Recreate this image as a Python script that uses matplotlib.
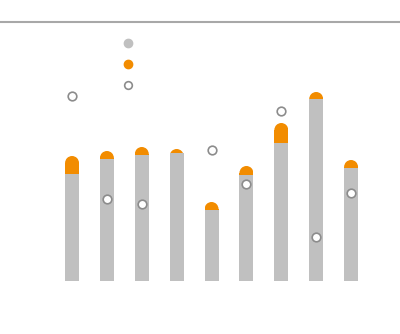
import numpy as np
import matplotlib
matplotlib.use("Agg")
import matplotlib.pyplot as plt
from matplotlib.patches import Ellipse, Rectangle
from matplotlib.lines import Line2D

# values per category
categories = np.arange(9)
base_values = [107, 122, 126, 128, 71, 106, 138, 182, 113]
extra_values = [18, 8, 8, 4, 8, 9, 20, 7, 8]
target_values = [185, 82, 77, np.nan, 131, 97, 170, 44, 88]

GRAY = "#c0c0c0"
ORANGE = "#f28c00"
RING = "#8c8c8c"

W, H = 400, 334
fig = plt.figure(figsize=(W / 100, H / 100), dpi=100)
ax = fig.add_axes([54.6 / W, (H - 281) / H, 313.9 / W, 260 / H])
ax.set_xlim(-0.5, 8.5)
ax.set_ylim(0, 260)
ax.axis("off")

bar_w = 0.4
# rounded cap radius (7 px); one data unit on y is one pixel here
cap_y = 7

base = np.array(base_values)
totals = base + np.array(extra_values)

# orange part: straight body above the gray bar plus a rounded top
body = np.clip(totals - cap_y - base, 0, None)
ax.bar(categories, body, bottom=base, width=bar_w, color=ORANGE, linewidth=0, zorder=1)
for x, b, t in zip(categories, base, totals):
    clip = Rectangle((x - bar_w / 2, b), bar_w, t - b, transform=ax.transData)
    cap = Ellipse((x, t - cap_y), bar_w, 2 * cap_y, color=ORANGE, linewidth=0, zorder=1)
    ax.add_patch(cap)
    cap.set_clip_path(clip)
ax.bar(categories, base, width=bar_w, color=GRAY, linewidth=0, zorder=2)

ax.plot(categories, target_values, linestyle="none", marker="o", markersize=6.2,
        markerfacecolor="white", markeredgecolor=RING, markeredgewidth=1.2, zorder=3)

# thin rule across the top
fig.add_artist(Line2D([0, 1], [(H - 21.5) / H] * 2, color="#a8a8a8", linewidth=1.5))

handles = [
    Line2D([], [], linestyle="none", marker="o", markersize=6, markerfacecolor=GRAY,
           markeredgecolor=GRAY),
    Line2D([], [], linestyle="none", marker="o", markersize=6, markerfacecolor=ORANGE,
           markeredgecolor=ORANGE),
    Line2D([], [], linestyle="none", marker="o", markersize=5.5, markerfacecolor="white",
           markeredgecolor=RING, markeredgewidth=1.2),
]
fig.legend(handles, ["", "", ""], loc="upper left", bbox_to_anchor=(121 / W, 1 - 37 / H),
           frameon=False, handlelength=1.0, handletextpad=0, labelspacing=0.51,
           borderpad=0, borderaxespad=0)

fig.savefig("out.png", dpi=100)
